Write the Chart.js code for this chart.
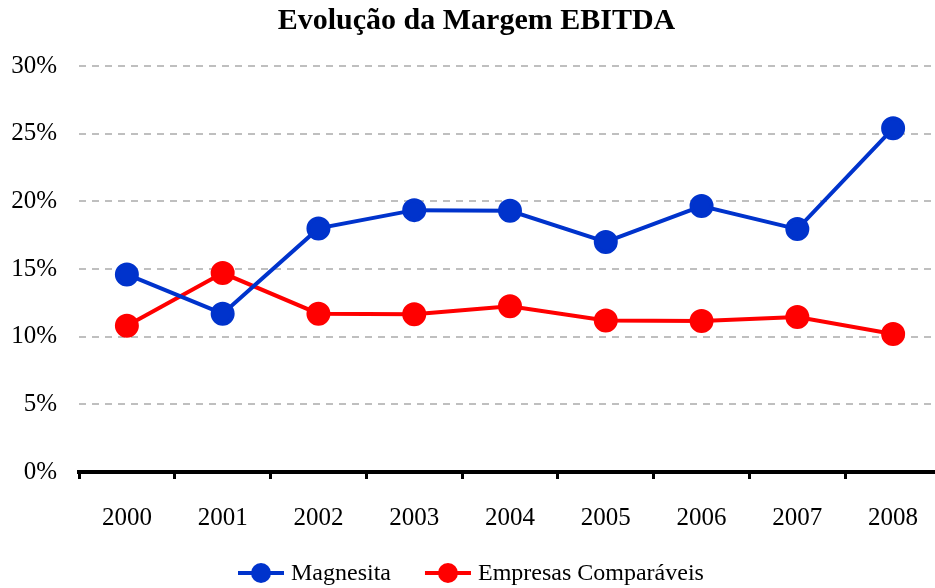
<!DOCTYPE html>
<html><head><meta charset="utf-8">
<script src="https://cdn.jsdelivr.net/npm/chart.js@4.4.0/dist/chart.umd.min.js"></script>
<style>html,body{margin:0;padding:0;overflow:hidden;background:#fff;width:935px;height:588px}
#wrap{width:955px;height:588px;position:relative}</style>
</head><body><div id="wrap"><canvas id="c" width="955" height="588"></canvas></div>
<script>
const years = ['2000','2001','2002','2003','2004','2005','2006','2007','2008'];
const magnesita = [14.6, 11.7, 18.0, 19.35, 19.3, 17.0, 19.65, 17.95, 25.4];
const comparaveis = [10.8, 14.7, 11.7, 11.65, 12.25, 11.2, 11.15, 11.45, 10.2];
const yTicks = [0, 5, 10, 15, 20, 25, 30];
const BLUE = '#0033CC', RED = '#FF0000';

const legendPlugin = {
  id: 'lineLegend',
  afterDraw(chart) {
    const ctx = chart.ctx;
    const y = 573, icon = 46, gapText = 7, gapItem = 34;
    ctx.save();
    ctx.font = '24px "Liberation Serif"';
    ctx.textBaseline = 'middle';
    ctx.textAlign = 'left';
    let x = 238;
    chart.data.datasets.forEach((d) => {
      ctx.strokeStyle = d.borderColor; ctx.lineWidth = 4;
      ctx.beginPath(); ctx.moveTo(x, y); ctx.lineTo(x + icon, y); ctx.stroke();
      ctx.fillStyle = d.borderColor;
      ctx.beginPath(); ctx.arc(x + icon / 2, y, 10, 0, Math.PI * 2); ctx.fill();
      x += icon + gapText;
      ctx.fillStyle = '#000';
      ctx.fillText(d.label, x, y + 1);
      x += ctx.measureText(d.label).width + gapItem;
    });
    ctx.restore();
  }
};

new Chart(document.getElementById('c'), {
  type: 'line',
  data: {
    labels: years,
    datasets: [
      {label: 'Magnesita', data: magnesita, borderColor: BLUE, backgroundColor: BLUE, borderWidth: 4, pointRadius: 10, pointHoverRadius: 10, tension: 0},
      {label: 'Empresas Comparáveis', data: comparaveis, borderColor: RED, backgroundColor: RED, borderWidth: 4, pointRadius: 10, pointHoverRadius: 10, tension: 0}
    ]
  },
  plugins: [legendPlugin],
  options: {
    responsive: false, animation: false,
    layout: {padding: {left: 10, right: 12, top: 3, bottom: 31}},
    plugins: {
      title: {display: true, text: 'Evolução da Margem EBITDA', color: '#000',
        font: {family: 'Liberation Serif', size: 30, weight: 'bold'}, padding: {top: 0, bottom: 27}},
      legend: {display: false},
      tooltip: {enabled: false}
    },
    scales: {
      x: {
        offset: true,
        grid: {offset: true, drawOnChartArea: false, drawTicks: true, tickLength: 7, tickColor: '#000', tickWidth: 3},
        border: {display: true, color: '#000', width: 4},
        ticks: {color: '#000', padding: 24, font: {family: 'Liberation Serif', size: 25}}
      },
      y: {
        min: 0, max: 30,
        afterBuildTicks: (s) => { s.ticks = yTicks.map(v => ({value: v})); },
        afterFit: (s) => { s.width = 69; },
        grid: {color: (ctx) => ctx.tick && ctx.tick.value === 0 ? 'rgba(0,0,0,0)' : '#BFBFBF', lineWidth: 2, drawTicks: false},
        border: {display: false, dash: [7, 6]},
        ticks: {color: '#000', padding: 22, callback: v => v + '%', font: {family: 'Liberation Serif', size: 25}}
      }
    }
  }
});
</script></body></html>
